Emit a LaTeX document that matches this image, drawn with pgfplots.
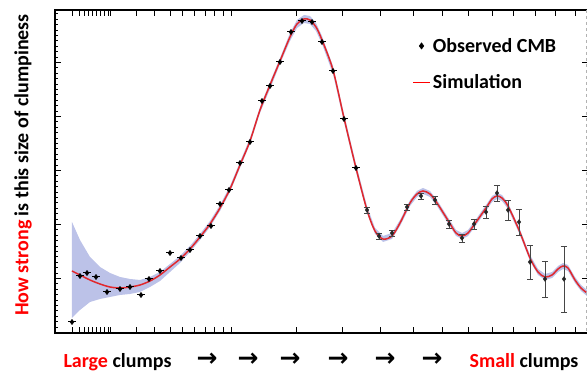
\documentclass[border=0pt]{standalone}
\usepackage{fontspec}
\setmainfont{Carlito}
\newfontfamily\symfont{DejaVu Sans}
\usepackage{pgfplots}
\pgfplotsset{compat=1.18}
\definecolor{cmbred}{RGB}{225,40,45}
\definecolor{bandblue}{RGB}{188,194,232}
\definecolor{labred}{RGB}{255,0,0}
\definecolor{errgray}{RGB}{70,70,70}
\newcommand{\bigfont}{\bfseries\fontsize{20}{24}\selectfont}
\begin{document}
\begin{tikzpicture}
\begin{axis}[
  scale only axis, width=532pt, height=323pt,
  xmin=55, xmax=587, ymin=10, ymax=333, y dir=reverse,
  axis line style={draw=none},
  clip=false,
  xtick={72.7,80,84.3,88.3,92.3,96.3,100.3,104.3,108.3,111,136.7,155,170,182.7,194,205,214.3,223.3,231.7,296,342,380,413,442,468,492,513,535,555,575},
  xticklabels={}, xtick pos=both,
  ytick={62.5,116.5,170.5,224.5,278.5}, yticklabels={},
  minor ytick={13.9,19.3,...,332}, ytick pos=left,
  tick align=inside,
  major tick length=6pt, minor tick length=3.5pt,
  tick style={black, line width=1pt},
  legend style={draw=none, fill=none, at={(axis cs:409,34)}, anchor=north west,
    font=\bigfont, row sep=17pt},
  legend cell align=left,
]
\addlegendimage{only marks, mark=diamond*, mark size=3.2pt, color=black}
\addlegendentry{Observed CMB}
\addlegendimage{no markers, color=labred, line width=1.6pt}
\addlegendentry{Simulation}

% uncertainty band
\addplot[draw=none, fill=bandblue, forget plot] coordinates {
(72,222)(80,240)(90,257)(100,267)(110,273)(120,277)(130,279)(140,280)(150,277)(160,272)(170,264)(180,256)(190,246)(200,234)(210,221)(220,205)(230,186)(240,162)(250,138)(260,107)(270,82)(280,58)(290,33)(297,20)(304,15)(310,16)(316,23)(322,36)(333,66)(344,114)(356,164)(367,206)(375,228)(383,236)(392,233)(400,220)(410,200)(417,191)(423,188)(430,191)(437,200)(449,219)(456,230)(462,233)(468,230)(474,222)(486,205)(492,196)(497,193)(502,195)(508,203)(519,227)(530,255)(538,269)(545,274)(552,272)(558,266)(563,263)(568,265)(575,277)(581,285)(587,290)
(587,296)(581,291)(575,283)(568,271)(563,269)(558,272)(552,278)(545,280)(538,275)(530,261)(519,233)(508,209)(502,201)(497,199)(492,202)(486,211)(474,228)(468,236)(462,239)(456,236)(449,225)(437,206)(430,197)(423,194)(417,197)(410,206)(400,226)(392,239)(383,242)(375,234)(367,213)(356,172)(344,122)(333,74)(322,44)(316,31)(310,24)(304,23)(297,28)(290,41)(280,64)(270,89)(260,113)(250,144)(240,168)(230,192)(220,211)(210,227)(200,240)(190,252)(180,263)(170,272)(160,281)(150,287)(140,292)(130,294)(120,295)(110,297)(100,299)(90,302)(80,310)(72,318)
} -- cycle;

% simulation curve
\addplot[cmbred, line width=1.5pt, smooth, tension=0.5, forget plot] coordinates {
(72,271)(80,275)(90,280)(100,284)(110,287)(120,288)(130,287)(140,285)(150,281)(160,275)(170,267)(180,259)(190,249)(200,237)(210,224)(220,208)(230,189)(240,165)(250,141)(260,110)(270,85)(280,61)(290,37)(297,24)(304,19)(310,20)(316,27)(322,40)(333,70)(344,118)(356,168)(367,210)(375,231)(383,239)(392,236)(400,223)(410,203)(417,194)(423,191)(430,194)(437,203)(449,222)(456,233)(462,236)(468,233)(474,225)(486,208)(492,199)(497,196)(502,198)(508,206)(519,230)(530,258)(538,272)(545,277)(552,275)(558,269)(563,266)(568,268)(575,280)(581,288)(587,293)
};

% observed points, left part (horizontal bars)
\addplot[only marks, mark=diamond*, mark size=2.6pt, black, forget plot,
  error bars/.cd, x dir=both, x fixed=4, error mark=none,
  error bar style={black, line width=1pt}] coordinates {
(72,322)(80,276)(87,273)(96,277)(107,292)(120,289)(130,287)(141,295)(149,279)(160,271)(170,253)(181,258)(190,250)(200,236)(211,226)(220,204)(229,190)(240,163)(250,142)(262,101)(270,86)(280,62)(291,32)(302,21)(312,22)(322,42)(333,71)(344,119)(356,168)
};

% observed points, right part (vertical error bars)
\addplot[only marks, mark=diamond*, mark size=2.4pt, black!85, forget plot,
  error bars/.cd, y dir=both, y explicit,
  error bar style={errgray, line width=0.8pt},
  error mark options={rotate=90, errgray, mark size=3.2pt, line width=0.8pt}] coordinates {
(367,210) +- (0,3)
(379,236) +- (0,3)
(392,233) +- (0,3)
(407,207) +- (0,3)
(421,196) +- (0,3)
(435,200) +- (0,4)
(449,224) +- (0,4)
(462,238) +- (0,4)
(474,224) +- (0,5)
(486,212) +- (0,6)
(497,193) +- (0,8)
(508,210) +- (0,10)
(519,222) +- (0,13)
(530,262) +- (0,17)
(545,279) +- (0,18)
(564,279) +- (0,33)
};

% spines
\draw[black, line width=1.3pt] (axis cs:55,10) -- (axis cs:587,10);
\draw[black, line width=1.3pt] (axis cs:55,9.4) -- (axis cs:55,333);
\draw[black, line width=1.3pt] (axis cs:54.4,333) -- (axis cs:587,333);
\draw[gray!60, dashed, line width=0.6pt] (axis cs:586.5,10) -- (axis cs:586.5,333);

% labels
\node[rotate=90, font=\bigfont] at (axis cs:23,165) {\textcolor{labred}{How strong} is this size of clumpiness};
\node[anchor=base, font=\bigfont] at (axis cs:117.5,367) {\textcolor{labred}{Large} clumps};
\node[anchor=base, font=\bigfont] at (axis cs:524,367) {\textcolor{labred}{Small} clumps};
\pgfplotsinvokeforeach{207,248,290,338,385,432}{
  \node[font=\symfont\bfseries\fontsize{25}{28}\selectfont] at (axis cs:#1,360) {→};
}

\coordinate (BL) at (axis cs:0,374);
\coordinate (TR) at (axis cs:587,0);
\end{axis}
\begin{axis}[
  scale only axis, width=532pt, height=323pt,
  xmin=55, xmax=587, ymin=10, ymax=333, y dir=reverse,
  axis line style={draw=none},
  xtick=\empty,
  ytick={62.5,116.5,170.5,224.5,278.5}, yticklabels={},
  ytick pos=right, tick align=inside,
  major tick length=5pt, tick style={black, line width=1pt},
]
\end{axis}
\pgfresetboundingbox
\path[use as bounding box] (BL) rectangle (TR);
\end{tikzpicture}
\end{document}
